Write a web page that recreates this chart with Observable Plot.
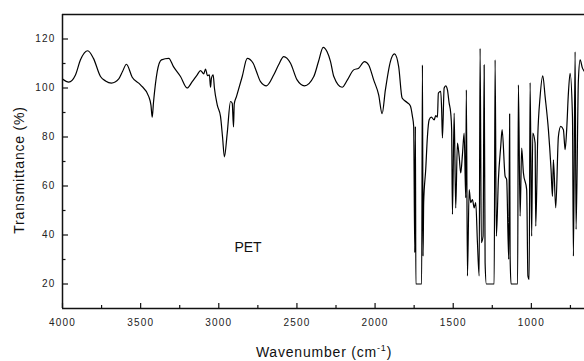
<!DOCTYPE html>
<html>
<head>
<meta charset="utf-8">
<script src="https://cdn.jsdelivr.net/npm/d3@7"></script>
<script src="https://cdn.jsdelivr.net/npm/@observablehq/plot@0.6"></script>
<style>
  html, body { margin: 0; padding: 0; background: #fff; }
  #chart svg { display: block; font-family: "Liberation Sans", Arial, sans-serif; }
  #chart g[aria-label="x-axis tick label"] text,
  #chart g[aria-label="y-axis tick label"] text { letter-spacing: 1.2px; }
</style>
</head>
<body>
<div id="chart"></div>
<script>
// Wavenumber (cm^-1) and transmittance (%)
const wavenumber = [4000,3960,3917,3885,3838,3802,3757,3725,3687,3640,3616,3591,3554,3501,3448,3434,3426,3418,3394,3367,
  3320,3290,3245,3202,3170,3138,3117,3096,3085,3072,3060,3053,3047,3036,3028,3010,2989,2976,2964,2946,
  2925,2914,2906,2901,2887,2850,2818,2780,2759,2733,2695,2648,2618,2584,2541,2499,2452,2392,2362,2332,
  2307,2285,2264,2211,2177,2137,2105,2068,2041,2009,1977,1955,1934,1902,1876,1849,1827,1795,1774,1761,
  1753,1746,1742,1739,1702,1697,1693,1689,1676,1665,1654,1640,1622,1612,1601,1595,1580,1574,1569,1558,
  1548,1537,1526,1516,1510,1505,1494,1484,1473,1462,1452,1441,1430,1420,1416,1409,1398,1388,1377,1366,
  1356,1345,1334,1328,1320,1309,1302,1296,1288,1238,1232,1224,1211,1196,1187,1168,1158,1145,1139,1136,
  1130,1088,1083,1072,1062,1051,1030,1022,1014,1008,998,991,976,972,959,944,927,912,891,874,
  865,859,844,827,812,795,784,774,763,752,737,731,720,714,699,688,673,660];
const transmittance = [103.7,102.4,105.3,111.5,115.2,112.1,104.7,102.9,102,103.7,106.7,109.7,104.4,101.3,96.5,93,88.1,94,106.7,111.5,
  112.1,108.7,104.7,100,102.6,105.4,107.1,105.8,107.7,105,105.4,100.3,104,105.4,100,93.1,88.4,80,71.9,81.6,
  94.5,93.8,84.1,93.5,96.5,104.7,112.1,110.1,106.7,102.6,100.9,105.4,109.4,112.8,110.1,103.3,100.9,104.7,110.8,116.6,
  114.8,110.8,104.7,100.3,103.3,107.4,108.1,110.8,109.4,103.3,97.2,89.5,99.2,110.8,113.9,108.7,95.9,94.1,92.7,88.4,
  84.3,32.8,84.3,20,20,109.4,31.4,53.2,66.7,80.2,87,88.1,87,88.7,88.1,97.9,98.6,91.1,79.6,100,
  100.9,99.2,93.8,89.8,83,48.4,89.8,51,77.5,72.1,65.3,72.8,81.6,55.2,99.2,23.3,58.5,53.2,54.5,51.1,
  53.2,36.9,23.3,116.2,36.9,39.5,109.4,28.7,20,20,111.5,39.5,62.6,76.2,83,64,62.6,30.1,89.4,31.4,
  20,20,101.3,47.7,75.5,65.4,58.5,23.3,21.9,102.2,39.5,81.6,77.5,43.6,80.2,96.5,105,96.5,83,66.7,
  55.8,70.7,51.1,80.2,84.3,83,74.8,83,97.9,106,88.4,31.4,114.8,42.3,103.3,111.5,108.1,106.7];

// Axis ticks
const xMajorTicks = [4000, 3500, 3000, 2500, 2000, 1500, 1000];
const xMinorTicks = [3750, 3250, 2750, 2250, 1750, 1250, 750];
const yMajorTicks = [20, 40, 60, 80, 100, 120];
const yMinorTicks = [30, 50, 70, 90, 110];

// Annotation
const sampleLabel = ["PET"];
const sampleLabelWavenumber = [2813];
const sampleLabelT = [35];

const spectrum = wavenumber.map((w, i) => ({w, t: transmittance[i]}));
const annotation = sampleLabel.map((s, i) => ({s, w: sampleLabelWavenumber[i], t: sampleLabelT[i]}));

const W = 584, H = 361;
const mTop = 14, mBottom = 53, mLeft = 62, mRight = 0;
const fh = H - mTop - mBottom, fw = W - mLeft - mRight;

const chart = Plot.plot({
  width: W,
  height: H,
  marginTop: mTop,
  marginBottom: mBottom,
  marginLeft: mLeft,
  marginRight: mRight,
  style: {fontFamily: "Liberation Sans, Arial, sans-serif", background: "#fff", color: "#222"},
  x: {domain: [4000, 660], ticks: xMajorTicks},
  y: {domain: [10, 130], ticks: yMajorTicks},
  marks: [
    Plot.line(spectrum, {x: "w", y: "t", stroke: "#000", strokeWidth: 1.2, curve: "monotone-x", clip: true}),
    Plot.text(annotation, {x: "w", y: "t", text: "s", fontSize: 14, fill: "#111", letterSpacing: 1}),
    // frame: top, left, bottom
    Plot.ruleY([130], {stroke: "#111", strokeWidth: 1.5}),
    Plot.ruleX([4000], {stroke: "#111", strokeWidth: 1.5}),
    Plot.ruleY([10], {stroke: "#111", strokeWidth: 1.5}),
    // inward ticks
    Plot.ruleX(xMajorTicks, {stroke: "#111", strokeWidth: 1.2, insetTop: fh - 5}),
    Plot.ruleX(xMinorTicks, {stroke: "#111", strokeWidth: 1.2, insetTop: fh - 3}),
    Plot.ruleY(yMajorTicks, {stroke: "#111", strokeWidth: 1.2, insetRight: fw - 6}),
    Plot.ruleY(yMinorTicks, {stroke: "#111", strokeWidth: 1.2, insetRight: fw - 3.5}),
    Plot.axisX(xMajorTicks, {tickSize: 0, tickPadding: 10, fontSize: 10, label: null, fill: "#222", tickFormat: d => String(d)}),
    Plot.axisY(yMajorTicks, {tickSize: 0, tickPadding: 7, fontSize: 10, label: null, fill: "#222", tickFormat: d => String(d)})
  ]
});

document.getElementById("chart").appendChild(chart);

// Axis titles
const svg = d3.select(chart);
const xt = svg.append("text")
  .attr("x", 324).attr("y", 357)
  .attr("text-anchor", "middle")
  .attr("font-size", 14)
  .attr("letter-spacing", 0.8)
  .attr("fill", "#111");
xt.append("tspan").text("Wavenumber (cm");
xt.append("tspan").attr("font-size", 9).attr("dy", -6).text("-1");
xt.append("tspan").attr("font-size", 14).attr("dy", 6).text(")");

svg.append("text")
  .attr("transform", "translate(23.5,170) rotate(-90)")
  .attr("text-anchor", "middle")
  .attr("font-size", 14)
  .attr("letter-spacing", 0.8)
  .attr("fill", "#111")
  .text("Transmittance (%)");
</script>
</body>
</html>
